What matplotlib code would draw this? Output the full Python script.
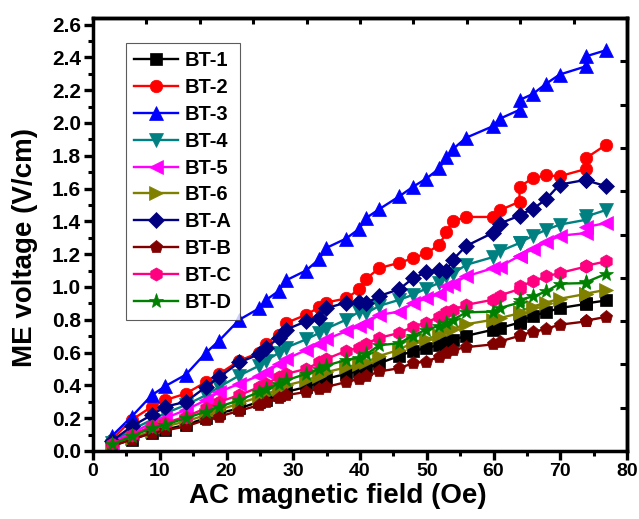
import numpy as np
import matplotlib
matplotlib.use("Agg")
import matplotlib.pyplot as plt

plt.rcParams['font.family'] = ['Liberation Sans', 'DejaVu Sans']
plt.rcParams['font.weight'] = 'bold'

# AC magnetic field (Oe)
field = [2.8, 5.8, 8.8, 10.8, 13.9, 16.9, 18.9, 21.9, 24.9, 25.9, 27.9, 28.9,
         31.9, 33.9, 34.9, 37.9, 39.9, 40.9, 42.9, 45.9, 47.9, 49.9, 51.9, 52.9,
         53.9, 55.9, 59.9, 60.9, 63.9, 63.9, 65.9, 67.9, 69.9, 73.9, 73.9, 76.9]

# ME voltage (V/cm) per sample
bt1 = [0.03, 0.07, 0.11, 0.13, 0.16, 0.20, 0.23, 0.26, 0.30, 0.31, 0.34, 0.36,
       0.39, 0.42, 0.44, 0.47, 0.49, 0.50, 0.535, 0.58, 0.61, 0.627, 0.647, 0.663,
       0.677, 0.702, 0.739, 0.749, 0.783, 0.79, 0.824, 0.847, 0.871, 0.897, 0.90, 0.918]
bt2 = [0.07, 0.19, 0.27, 0.31, 0.35, 0.42, 0.47, 0.55, 0.60, 0.655, 0.71, 0.78,
       0.83, 0.877, 0.905, 0.93, 0.985, 1.05, 1.115, 1.148, 1.175, 1.205, 1.258, 1.333,
       1.40, 1.427, 1.427, 1.467, 1.52, 1.61, 1.665, 1.68, 1.675, 1.72, 1.787, 1.868]
bt3 = [0.09, 0.21, 0.34, 0.395, 0.465, 0.598, 0.673, 0.80, 0.87, 0.92, 0.978, 1.04,
       1.10, 1.17, 1.237, 1.295, 1.355, 1.42, 1.475, 1.553, 1.61, 1.66, 1.723, 1.79,
       1.84, 1.91, 1.98, 2.025, 2.08, 2.14, 2.177, 2.24, 2.295, 2.346, 2.407, 2.444]
bt4 = [0.05, 0.13, 0.19, 0.23, 0.28, 0.34, 0.39, 0.46, 0.52, 0.55, 0.60, 0.63,
       0.68, 0.72, 0.745, 0.80, 0.85, 0.84, 0.885, 0.922, 0.952, 0.99, 1.026, 1.064,
       1.08, 1.135, 1.182, 1.217, 1.268, 1.27, 1.312, 1.349, 1.38, 1.41, 1.43, 1.47]
bt5 = [0.05, 0.11, 0.17, 0.20, 0.25, 0.31, 0.36, 0.41, 0.46, 0.48, 0.53, 0.56,
       0.615, 0.65, 0.68, 0.73, 0.76, 0.78, 0.83, 0.85, 0.90, 0.93, 0.957, 1.003,
       1.02, 1.064, 1.115, 1.123, 1.19, 1.19, 1.231, 1.272, 1.312, 1.329, 1.366, 1.39]
bt6 = [0.03, 0.08, 0.12, 0.15, 0.18, 0.22, 0.25, 0.29, 0.33, 0.345, 0.38, 0.40,
       0.43, 0.46, 0.48, 0.51, 0.53, 0.54, 0.58, 0.617, 0.663, 0.682, 0.708, 0.738,
       0.745, 0.773, 0.80, 0.81, 0.84, 0.85, 0.881, 0.905, 0.928, 0.958, 0.96, 0.983]
bta = [0.06, 0.15, 0.22, 0.27, 0.30, 0.39, 0.45, 0.54, 0.59, 0.63, 0.69, 0.74,
       0.79, 0.81, 0.87, 0.905, 0.91, 0.90, 0.945, 0.987, 1.052, 1.09, 1.105, 1.095,
       1.166, 1.25, 1.33, 1.386, 1.435, 1.44, 1.475, 1.536, 1.624, 1.654, 1.65, 1.614]
btb = [0.03, 0.07, 0.11, 0.125, 0.15, 0.19, 0.21, 0.245, 0.28, 0.30, 0.325, 0.34,
       0.36, 0.38, 0.39, 0.42, 0.44, 0.455, 0.485, 0.505, 0.535, 0.545, 0.576, 0.596,
       0.616, 0.633, 0.65, 0.667, 0.702, 0.708, 0.725, 0.745, 0.77, 0.79, 0.795, 0.818]
btc = [0.04, 0.10, 0.15, 0.17, 0.21, 0.26, 0.30, 0.34, 0.39, 0.41, 0.45, 0.47,
       0.50, 0.54, 0.56, 0.61, 0.63, 0.655, 0.69, 0.72, 0.758, 0.783, 0.82, 0.85,
       0.86, 0.891, 0.922, 0.948, 0.987, 1.003, 1.034, 1.064, 1.085, 1.125, 1.13, 1.156]
btd = [0.04, 0.09, 0.14, 0.16, 0.20, 0.24, 0.27, 0.31, 0.36, 0.38, 0.41, 0.43,
       0.47, 0.50, 0.52, 0.555, 0.57, 0.59, 0.645, 0.657, 0.704, 0.739, 0.763, 0.778,
       0.80, 0.845, 0.85, 0.871, 0.905, 0.922, 0.942, 0.973, 1.02, 1.024, 1.03, 1.081]

labels = ['BT-1', 'BT-2', 'BT-3', 'BT-4', 'BT-5', 'BT-6', 'BT-A', 'BT-B', 'BT-C', 'BT-D']
series = [bt1, bt2, bt3, bt4, bt5, bt6, bta, btb, btc, btd]
colors = ['#000000', '#FF0000', '#0000FF', '#008080', '#FF00FF',
          '#808000', '#000080', '#800000', '#FF0080', '#008000']
markers = ['s', 'o', '^', 'v', '<', '>', 'D', 'p', 'h', '*']
msizes = [8, 9, 10, 10, 10, 10, 8, 9.5, 9.5, 11]

fig = plt.figure(figsize=(6.39, 5.19), dpi=100)
ax = fig.add_axes([93 / 639, 1 - 451 / 519, (627 - 93) / 639, (451 - 18) / 519])

for y, lab, c, m, ms in zip(series, labels, colors, markers, msizes):
    ax.plot(field, y, color=c, marker=m, markersize=ms, linewidth=1.7,
            markeredgewidth=0.5, markeredgecolor=c, label=lab)

ax.set_xlim(0, 80)
ax.set_ylim(0, 2.64)
ax.set_xticks(np.arange(0, 81, 10))
ax.set_xticks(np.arange(5, 80, 10), minor=True)
ax.set_yticks(np.round(np.arange(0, 2.61, 0.2), 1))
ax.set_yticks(np.arange(0.1, 2.65, 0.2), minor=True)
ax.set_yticklabels([f'{v:.1f}' for v in np.arange(0, 2.61, 0.2)])

ax.tick_params(axis='both', which='major', direction='out', length=6.5, width=2.4, pad=2)
ax.tick_params(axis='x', which='major', labelsize=14)
ax.tick_params(axis='y', which='major', labelsize=15)
ax.tick_params(axis='both', which='minor', direction='out', length=3.5, width=2.2)
for lbl in ax.get_xticklabels() + ax.get_yticklabels():
    lbl.set_fontweight('bold')
for sp in ax.spines.values():
    sp.set_linewidth(2.5)

# opposite axes carry their own evenly divided ticks, pointing inward
top = ax.secondary_xaxis('top')
top.set_xticks(np.linspace(0, 80, 11))
top.tick_params(direction='in', length=4.5, width=2.2, labeltop=False)
top.spines['top'].set_linewidth(2.5)
right = ax.secondary_yaxis('right')
right.set_yticks(np.linspace(0, 2.64, 11))
right.tick_params(direction='in', length=5, width=2.2, labelright=False)
right.spines['right'].set_linewidth(2.5)

ax.set_xlabel('AC magnetic field (Oe)', fontsize=20, fontweight='bold', labelpad=2)
ax.set_ylabel('ME voltage (V/cm)', fontsize=20, fontweight='bold', labelpad=10)
ax.xaxis.label.set_x(0.459)
ax.yaxis.label.set_y(0.471)

leg = ax.legend(loc='upper left', bbox_to_anchor=(0.062, 0.942), fontsize=14.5,
                frameon=True, fancybox=False, handlelength=2.2, handletextpad=0.3,
                labelspacing=0.39, borderpad=0.4, borderaxespad=0.0)
leg.get_frame().set_edgecolor('#333333')
leg.get_frame().set_linewidth(0.8)
for t in leg.get_texts():
    t.set_fontweight('bold')

fig.savefig('out.png', dpi=100)
